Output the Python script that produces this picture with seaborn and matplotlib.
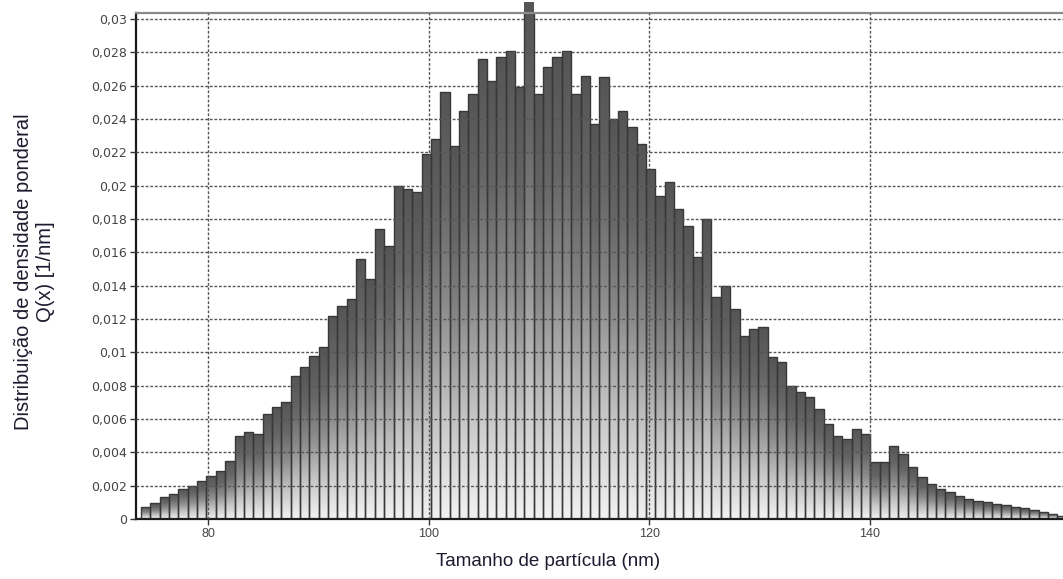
import numpy as np
import pandas as pd
import matplotlib
matplotlib.use("Agg")
import matplotlib.pyplot as plt
import seaborn as sns
from matplotlib.colors import LinearSegmentedColormap
from matplotlib.ticker import FuncFormatter, MultipleLocator

# histogram bins (uniform width)
bin_start = 73.9
bin_width = 0.848

# Q(x) [1/nm] per bin, left to right
densidade = [
    0.00075, 0.00095, 0.0013, 0.0015, 0.0018, 0.0020, 0.0023, 0.0026, 0.0029, 0.0035,
    0.0050, 0.0052, 0.0051, 0.0063, 0.0067, 0.0070, 0.0086, 0.0091, 0.0098, 0.0103,
    0.0122, 0.0128, 0.0132, 0.0156, 0.0144, 0.0174, 0.0164, 0.0200, 0.0198, 0.0196,
    0.0219, 0.0228, 0.0256, 0.0224, 0.0245, 0.0255, 0.0276, 0.0263, 0.0277, 0.0281,
    0.0259, 0.0310, 0.0255, 0.0271, 0.0277, 0.0281, 0.0255, 0.0266, 0.0237, 0.0265,
    0.0240, 0.0245, 0.0235, 0.0225, 0.0210, 0.0194, 0.0202, 0.0186, 0.0176, 0.0157,
    0.0180, 0.0133, 0.0140, 0.0126, 0.0110, 0.0114, 0.0115, 0.0097, 0.0094, 0.0080,
    0.0076, 0.0073, 0.0066, 0.0057, 0.0050, 0.0048, 0.0054, 0.0051, 0.0034, 0.0034,
    0.0044, 0.0039, 0.0031, 0.0025, 0.0021, 0.0018, 0.0016, 0.0014, 0.0012, 0.0011,
    0.0010, 0.0009, 0.00085, 0.00075, 0.00065, 0.00055, 0.00045, 0.0003, 0.0002,
]

n = len(densidade)
edges = [bin_start + bin_width * i for i in range(n + 1)]
df = pd.DataFrame({'tamanho': [e + bin_width / 2 for e in edges[:-1]],
                   'densidade': densidade})

sns.set_style("white")
plt.rcParams['font.family'] = ['Liberation Sans', 'DejaVu Sans']

fig = plt.figure(figsize=(10.63, 5.79), dpi=100)
ax = fig.add_axes([0.128, 0.1036, 0.874, 0.874])

sns.histplot(data=df, x='tamanho', weights='densidade', bins=edges, ax=ax,
             color='#888888', edgecolor='#383838', linewidth=1.0, alpha=1)

# gradient fill per bar: dark at the top, light at the bottom
cmap = LinearSegmentedColormap.from_list(
    'barra', ['#f2f2f2', '#c4c4c4', '#8c8c8c', '#666666', '#555555'])
grad = np.linspace(0, 1, 256).reshape(-1, 1)
for p in list(ax.patches):
    x0, y0 = p.get_x(), p.get_y()
    w, h = p.get_width(), p.get_height()
    im = ax.imshow(grad, extent=[x0, x0 + w, y0, y0 + h], origin='lower',
                   cmap=cmap, aspect='auto', zorder=1, interpolation='bilinear')
    im.set_clip_path(p)
    p.set_facecolor('none')
    p.set_zorder(1.5)

ax.set_xlim(73.45, 157.7)
ax.set_ylim(0, 0.03036)

ax.yaxis.set_major_locator(MultipleLocator(0.002))
ax.xaxis.set_major_locator(MultipleLocator(20))
ax.yaxis.set_major_formatter(FuncFormatter(
    lambda v, pos: '0' if abs(v) < 1e-9 else ('%.3f' % v).rstrip('0').replace('.', ',')))

ax.set_axisbelow(False)
ax.grid(True, color='#555555', linestyle=(0, (2, 1.3)), linewidth=1.0)

ax.tick_params(axis='both', which='major', direction='out', length=4, width=1,
               color='#333333', labelcolor='#444444', pad=2.5,
               left=True, bottom=True)
ax.tick_params(axis='y', labelsize=9, labelfontfamily='DejaVu Sans')
ax.tick_params(axis='x', labelsize=9)

for s in ['left', 'bottom']:
    ax.spines[s].set_color('#1a1a1a')
    ax.spines[s].set_linewidth(1.6)
ax.spines['top'].set_color('#8a8a8a')
ax.spines['top'].set_linewidth(1.6)
ax.spines['right'].set_visible(False)

ax.set_xlabel('Tamanho de partícula (nm)', fontsize=13.5, color='#1c1c30')
ax.xaxis.set_label_coords(0.4435, -0.068)
ax.set_ylabel('Distribuição de densidade ponderal\nQ(x) [1/nm]', fontsize=14.5,
              color='#1c1c30', linespacing=1.2)
ax.yaxis.set_label_coords(-0.087, 0.488)

fig.savefig('out.png', dpi=100)
